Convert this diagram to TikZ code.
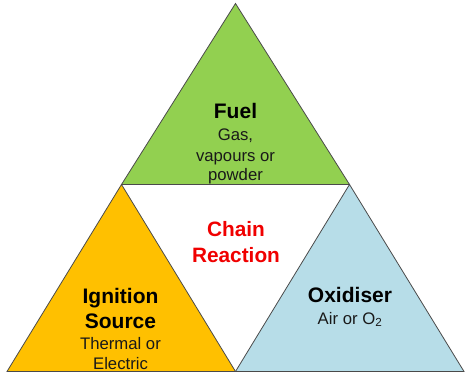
\documentclass[tikz,border=0pt]{standalone}
\usepackage{fontspec}
\setmainfont{Liberation Sans}
\definecolor{fuelgreen}{HTML}{92D050}
\definecolor{ignorange}{HTML}{FFC000}
\definecolor{oxblue}{HTML}{B7DDE8}
\definecolor{edgegray}{HTML}{4A4A4A}
\definecolor{chainred}{HTML}{F00000}
\tikzset{
  tri/.style={draw=edgegray, line width=0.8pt, line join=miter},
  ttl/.style={anchor=base, inner sep=0pt, font=\fontsize{21}{24}\selectfont\bfseries, text=black},
  sub/.style={anchor=base, inner sep=0pt, font=\fontsize{16.7}{20}\selectfont, text=black!90},
  chain/.style={anchor=base, inner sep=0pt, font=\fontsize{20.8}{24}\selectfont\bfseries, text=chainred},
}
\begin{document}
\begin{tikzpicture}[x=1pt,y=-1pt]
\useasboundingbox (0,0) rectangle (471,379);
% vertices
\coordinate (apex) at (235.5,3.5);
\coordinate (ml) at (121.5,184.5);
\coordinate (mr) at (349.5,184.5);
\coordinate (bl) at (7,371.5);
\coordinate (bm) at (235.5,371.5);
\coordinate (br) at (464,371.5);
% triangles
\filldraw[tri, fill=fuelgreen] (apex) -- (ml) -- (mr) -- cycle;
\filldraw[tri, fill=ignorange] (ml) -- (bl) -- (bm) -- cycle;
\filldraw[tri, fill=oxblue] (mr) -- (bm) -- (br) -- cycle;
% Fuel
\node[ttl] (fuel) at (235.5,119) {Fuel};
\node[sub] (fuel1) at (235.5,141) {Gas,};
\node[sub] (fuel2) at (235.5,161.5) {vapours or};
\node[sub] (fuel3) at (235.5,181) {powder};
% Chain reaction
\node[chain] (ch1) at (236,237) {Chain};
\node[chain] (ch2) at (236,262.7) {Reaction};
% Ignition
\node[ttl] (ign1) at (120.5,304) {Ignition};
\node[ttl] (ign2) at (120.5,328.3) {Source};
\node[sub] (ign3) at (120.5,349.3) {Thermal or};
\node[sub] (ign4) at (120.5,369.3) {Electric};
% Oxidiser
\node[ttl] (ox1) at (350,302.7) {Oxidiser};
\node[sub] (ox2) at (350,324) {Air or O\textsubscript{2}};
\end{tikzpicture}
\end{document}
